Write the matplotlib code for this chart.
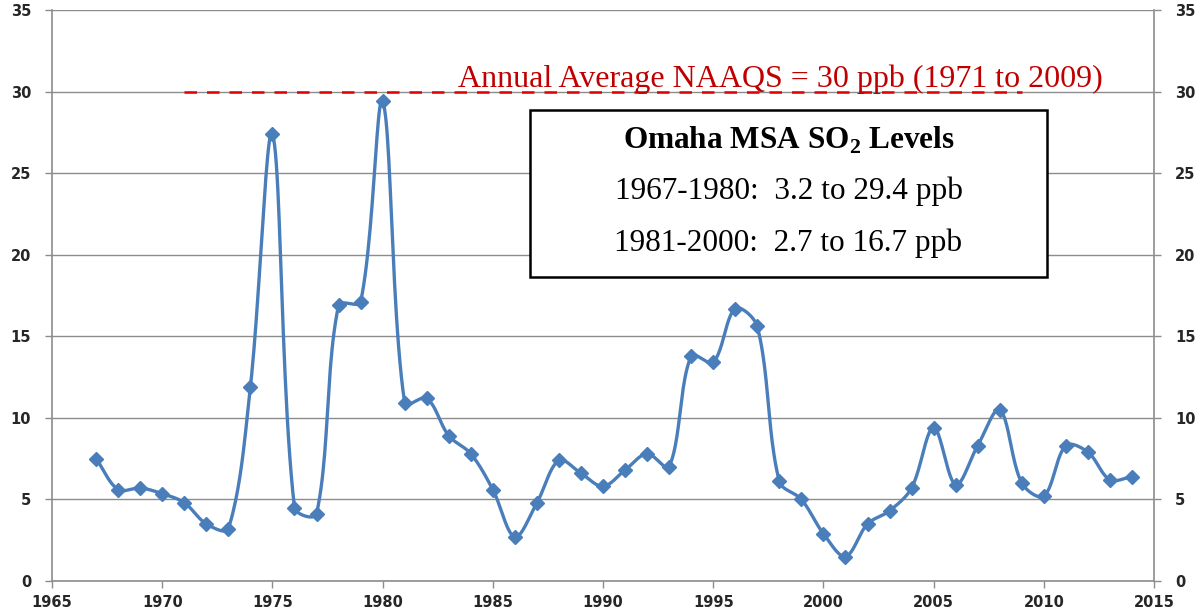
import numpy as np
import matplotlib
matplotlib.use('Agg')
import matplotlib.pyplot as plt

plt.rcParams['mathtext.fontset'] = 'custom'
plt.rcParams['mathtext.rm'] = 'Liberation Serif'
plt.rcParams['mathtext.bf'] = 'Liberation Serif:bold'

# 年份和SO2年均值 (ppb)
years = list(range(1967, 2015))
so2 = [7.5, 5.6, 5.7, 5.35, 4.8, 3.5, 3.2, 11.9, 27.4, 4.5,
       4.1, 16.9, 17.1, 29.4, 10.9, 11.2, 8.9, 7.8, 5.6, 2.7,
       4.8, 7.4, 6.6, 5.8, 6.8, 7.8, 7.0, 13.8, 13.4, 16.7,
       15.6, 6.1, 5.0, 2.9, 1.5, 3.5, 4.3, 5.7, 9.4, 5.9,
       8.3, 10.5, 6.0, 5.2, 8.3, 7.9, 6.2, 6.4]

naaqs_level = 30
naaqs_years = [1971, 2009]
naaqs_label = 'Annual Average NAAQS = 30 ppb (1971 to 2009)'
box_title = r'Omaha MSA SO$_\mathbf{2}$ Levels'
box_lines = ['1967-1980:  3.2 to 29.4 ppb', '1981-2000:  2.7 to 16.7 ppb']

x_ticks = list(range(1965, 2016, 5))
y_ticks = list(range(0, 36, 5))


# Excel风格平滑曲线, 在屏幕坐标下按弦长缩放控制点
def smooth(xs, ys, sx=22.04, sy=16.3, n=24):
    xs = np.asarray(xs, float) * sx
    ys = np.asarray(ys, float) * sy
    pts = np.column_stack([xs, ys])
    pts = np.vstack([pts[0], pts, pts[-1]])
    t = np.linspace(0, 1, n)[:, None]
    out = []
    for i in range(1, len(pts) - 2):
        p0, p1, p2, p3 = pts[i - 1], pts[i], pts[i + 1], pts[i + 2]
        d01 = np.linalg.norm(p1 - p0)
        d12 = np.linalg.norm(p2 - p1)
        d23 = np.linalg.norm(p3 - p2)
        f1 = d12 / (d01 + d12) / 3 if d01 + d12 > 0 else 0
        f2 = d12 / (d12 + d23) / 3 if d12 + d23 > 0 else 0
        c1 = p1 + (p2 - p0) * f1
        c2 = p2 - (p3 - p1) * f2
        b = (1 - t) ** 3 * p1 + 3 * (1 - t) ** 2 * t * c1 \
            + 3 * (1 - t) * t ** 2 * c2 + t ** 3 * p2
        out.append(b)
    out = np.vstack(out)
    return out[:, 0] / sx, out[:, 1] / sy


fig = plt.figure(figsize=(11.99, 6.12), dpi=100)
ax = fig.add_axes([0.0434, 0.0507, 0.9191, 0.933])

blue = '#4A7EBB'
sx, sy = smooth(years, so2)
ax.plot(sx, sy, color=blue, lw=2.4, zorder=3, solid_capstyle='round')
ax.plot(years, so2, linestyle='none', marker='D', markersize=7,
        color=blue, zorder=4)

# NAAQS 虚线
ax.plot(naaqs_years, [naaqs_level, naaqs_level], color='#E00000', lw=1.8,
        dashes=(5, 4), zorder=2)
ax.text(1983.4, 30.3, naaqs_label, color='#C00000', fontsize=23,
        family='Liberation Serif', ha='left', va='baseline', zorder=5)

ax.set_xlim(1965, 2015)
ax.set_ylim(0, 35)
ax.set_xticks(x_ticks)
ax.set_yticks(y_ticks)
ax.grid(axis='y', color='#8c8c8c', lw=1.0)
ax.set_axisbelow(True)

for s in ['left', 'bottom', 'right']:
    ax.spines[s].set_color('#8c8c8c')
    ax.spines[s].set_linewidth(1.2)
ax.spines['top'].set_visible(False)

ax.tick_params(axis='both', colors='#8c8c8c', length=5, width=1.0,
               labelcolor='#262626', labelsize=10.5)
ax.tick_params(axis='y', left=True, right=True, labelleft=True,
               labelright=True, pad=10)
ax.tick_params(axis='x', pad=5)
for lab in ax.get_xticklabels() + ax.get_yticklabels():
    lab.set_fontweight('bold')
for lab in ax.yaxis.get_ticklabels(which='both'):
    lab.set_fontweight('bold')

# 文本框
bx0, by0 = 530 / 1199, 1 - 277 / 612
bw, bh = (1047 - 530) / 1199, (277 - 110) / 612
rect = plt.Rectangle((bx0, by0), bw, bh, transform=fig.transFigure,
                     facecolor='white', edgecolor='black', lw=1.8, zorder=6)
fig.patches.append(rect)
cx = bx0 + bw / 2
fig.text(cx, 1 - 140 / 612, box_title, ha='center', va='center',
         family='Liberation Serif', fontweight='bold', fontsize=22.5,
         zorder=7)
fig.text(cx, 1 - 191 / 612, box_lines[0], ha='center', va='center',
         family='Liberation Serif', fontsize=22.5, zorder=7)
fig.text(cx, 1 - 243 / 612, box_lines[1], ha='center', va='center',
         family='Liberation Serif', fontsize=22.5, zorder=7)

fig.savefig('out.png', dpi=100)
